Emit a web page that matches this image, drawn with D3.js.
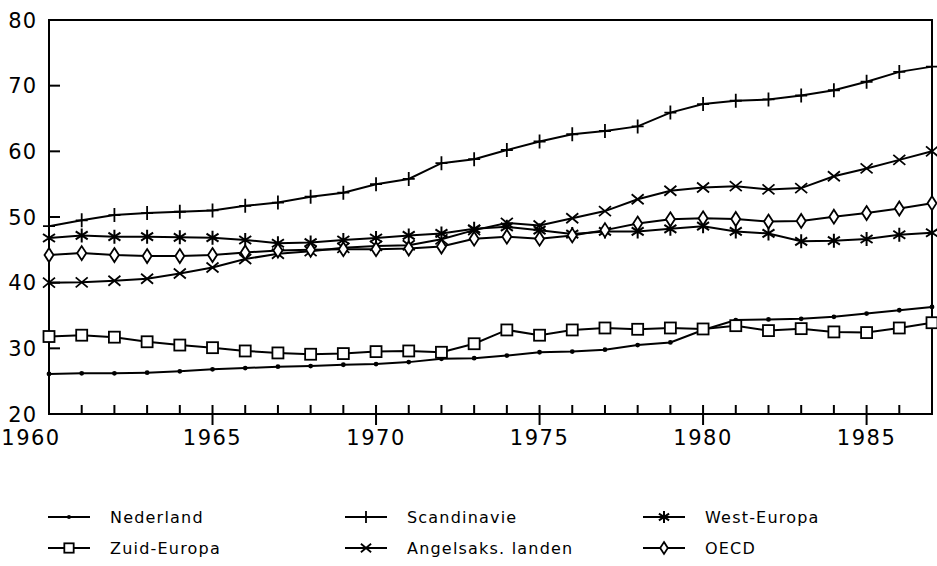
<!DOCTYPE html>
<html><head><meta charset="utf-8">
<script src="https://cdn.jsdelivr.net/npm/d3@7"></script>
<style>body{margin:0;background:#fff}svg{display:block}text{font-family:"DejaVu Sans",sans-serif;fill:#000}</style>
</head><body><svg id="c" width="937" height="566"></svg>
<script>
const years = d3.range(1960, 1988);
const nederland   = [26.1,26.2,26.2,26.3,26.5,26.8,27.0,27.2,27.3,27.5,27.6,27.9,28.4,28.5,28.9,29.4,29.5,29.8,30.5,30.9,32.8,34.3,34.4,34.5,34.8,35.3,35.8,36.3];
const scandinavie = [48.6,49.5,50.3,50.6,50.8,51.0,51.7,52.2,53.1,53.7,55.0,55.8,58.2,58.8,60.2,61.5,62.6,63.1,63.8,65.9,67.2,67.7,67.9,68.5,69.3,70.6,72.1,72.9];
const westEuropa  = [46.8,47.2,47.0,47.0,46.9,46.85,46.5,46.0,46.1,46.5,46.8,47.2,47.5,48.2,48.5,48.0,47.4,47.8,47.8,48.2,48.6,47.8,47.5,46.3,46.4,46.65,47.3,47.6];
const zuidEuropa  = [31.8,32.0,31.7,31.0,30.5,30.1,29.6,29.3,29.1,29.2,29.5,29.6,29.4,30.7,32.8,32.0,32.8,33.1,32.9,33.1,32.95,33.45,32.7,33.0,32.5,32.4,33.1,33.9];
const angelsaks   = [40.0,40.05,40.3,40.6,41.4,42.3,43.6,44.4,44.8,45.3,45.6,45.7,46.6,48.0,49.1,48.7,49.8,50.9,52.7,54.0,54.5,54.7,54.2,54.4,56.2,57.4,58.7,60.0];
const oecd        = [44.2,44.5,44.2,44.05,44.05,44.2,44.6,44.9,45.0,45.1,45.1,45.2,45.5,46.7,47.0,46.7,47.2,48.0,49.0,49.65,49.8,49.7,49.3,49.4,50.05,50.6,51.3,52.1];
const seriesNames = ["Nederland","Scandinavie","West-Europa","Zuid-Europa","Angelsaks. landen","OECD"];
const seriesMarkers = ["dot","plus","star","square","cross","diamond"];
const seriesValues = [nederland,scandinavie,westEuropa,zuidEuropa,angelsaks,oecd];
const yTicks = [20,30,40,50,60,70,80];
const xTicks = [1960,1965,1970,1975,1980,1985];

const svg = d3.select("#c");
const x = d3.scaleLinear().domain([1960,1987]).range([49,932]);
const y = d3.scaleLinear().domain([20,80]).range([414,20]);

// frame
svg.append("rect").attr("x",49).attr("y",20).attr("width",883).attr("height",394)
  .attr("fill","none").attr("stroke","#000").attr("stroke-width",2);

// y ticks (inside)
svg.append("g").selectAll("line").data(yTicks.filter(v=>v>20&&v<80)).join("line")
  .attr("x1",49).attr("x2",60).attr("y1",d=>y(d)).attr("y2",d=>y(d))
  .attr("stroke","#000").attr("stroke-width",2);
svg.append("g").selectAll("text").data(yTicks).join("text")
  .attr("x",37).attr("y",d=>y(d)).attr("dy","0.36em").attr("text-anchor","end")
  .attr("font-size",21).attr("letter-spacing",1).text(d=>d);

// x ticks: minor (inside) and major (crossing)
svg.append("g").selectAll("line").data(years.filter(v=>v>1960&&v<1987)).join("line")
  .attr("x1",d=>x(d)).attr("x2",d=>x(d)).attr("y1",405).attr("y2",d=>xTicks.includes(d)?425:414)
  .attr("stroke","#000").attr("stroke-width",2);
svg.append("g").selectAll("text").data(xTicks).join("text")
  .attr("x",d=>x(d)+(d===1960?-18:0)).attr("y",445).attr("text-anchor","middle")
  .attr("font-size",21).attr("letter-spacing",1.5).text(d=>d);

function marker(g, type, s){
  s = s||1;
  if(type==="dot") g.append("circle").attr("r",2.4*s).attr("fill","#000");
  else if(type==="plus") g.append("path").attr("d",`M0,${-7*s}V${7*s}M${-6*s},0H${6*s}`).attr("stroke","#000").attr("stroke-width",1.8).attr("fill","none");
  else if(type==="star") g.append("path").attr("d",`M0,${-7*s}V${7*s}M${-6*s},${-4*s}L${6*s},${4*s}M${-6*s},${4*s}L${6*s},${-4*s}`).attr("stroke","#000").attr("stroke-width",2).attr("fill","none");
  else if(type==="square") g.append("rect").attr("x",-5.5*s).attr("y",-5.5*s).attr("width",11*s).attr("height",11*s).attr("fill","#fff").attr("stroke","#000").attr("stroke-width",1.8);
  else if(type==="cross") g.append("path").attr("d",`M${-6*s},${-5*s}L${6*s},${5*s}M${-6*s},${5*s}L${6*s},${-5*s}`).attr("stroke","#000").attr("stroke-width",1.8).attr("fill","none");
  else if(type==="diamond") g.append("path").attr("d",`M0,${-7*s}L${4.5*s},0L0,${7*s}L${-4.5*s},0Z`).attr("fill","#fff").attr("stroke","#000").attr("stroke-width",1.8);
}

const line = d3.line().x((d,i)=>x(years[i])).y(d=>y(d));
seriesValues.forEach((vals,k)=>{
  const g = svg.append("g");
  g.append("path").datum(vals).attr("d",line).attr("fill","none").attr("stroke","#000").attr("stroke-width",2);
  g.selectAll("g").data(vals).join("g")
    .attr("transform",(d,i)=>`translate(${x(years[i])},${y(d)})`)
    .each(function(){ marker(d3.select(this), seriesMarkers[k]); });
});

// legend
const colX = [48,345,643];
const rowY = [517,548];
seriesNames.forEach((name,k)=>{
  const cx = colX[k%3], cy = rowY[Math.floor(k/3)];
  const g = svg.append("g").attr("transform",`translate(${cx},${cy})`);
  g.append("line").attr("x1",0).attr("x2",42).attr("stroke","#000").attr("stroke-width",2);
  const m = g.append("g").attr("transform","translate(21,0)");
  marker(m, seriesMarkers[k], 0.85);
  g.append("text").attr("x",62).attr("dy","0.36em").attr("font-size",16).attr("letter-spacing",1.2).text(name);
});
</script></body></html>
